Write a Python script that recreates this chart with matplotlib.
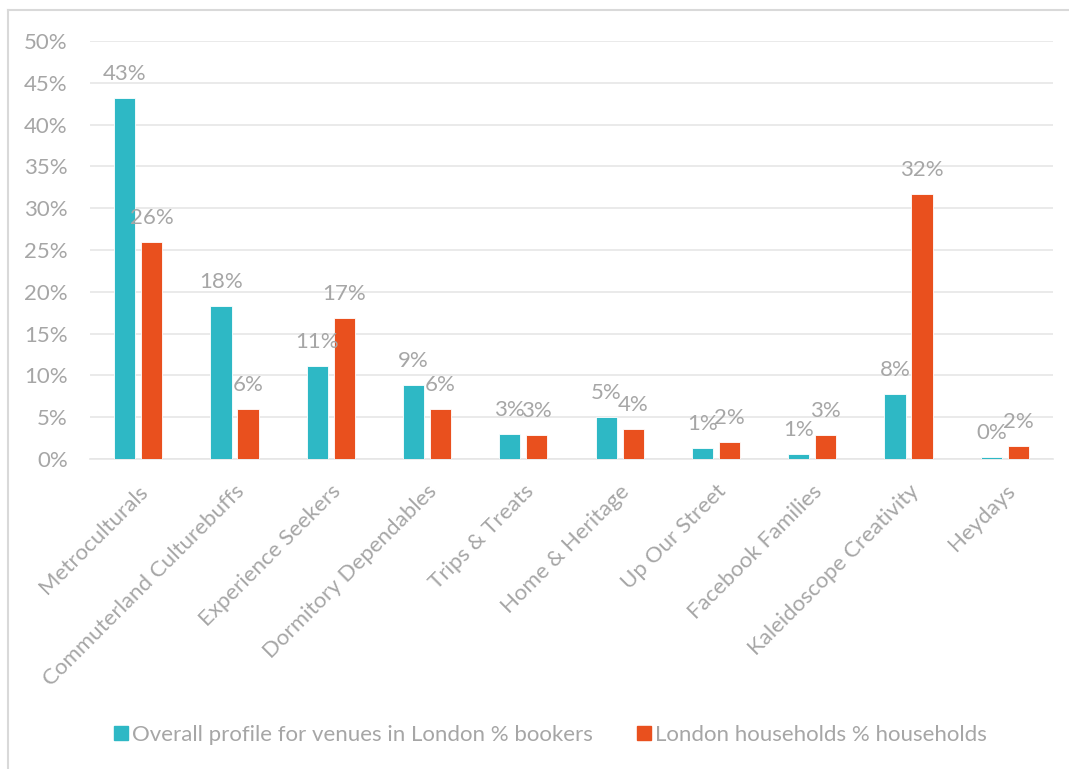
import matplotlib.pyplot as plt
import numpy as np
from matplotlib.lines import Line2D

plt.rcParams['font.family'] = ['Lato', 'DejaVu Sans']

categories = ["Metroculturals", "Commuterland Culturebuffs", "Experience Seekers",
              "Dormitory Dependables", "Trips & Treats", "Home & Heritage",
              "Up Our Street", "Facebook Families", "Kaleidoscope Creativity", "Heydays"]
bookers = [43.2, 18.3, 11.1, 8.8, 3.0, 5.0, 1.3, 0.6, 7.8, 0.2]
households = [26.0, 6.0, 16.9, 6.0, 2.9, 3.6, 2.0, 2.9, 31.7, 1.5]
series_names = ["Overall profile for venues in London % bookers",
                "London households % households"]
yticks = [0, 5, 10, 15, 20, 25, 30, 35, 40, 45, 50]

teal = "#2EB8C5"
orange = "#E9501E"
grey_text = "#A6A6A6"
grid_col = "#E6E6E6"
FS = 16

fig = plt.figure(figsize=(10.69, 7.69), dpi=100)
ax = fig.add_axes([90 / 1069, 1 - 459 / 769, (1053 - 90) / 1069, (459 - 41) / 769])

x = np.arange(len(categories))
w = 0.22
off = 0.14
b1 = ax.bar(x - off, bookers, w, color=teal, edgecolor="white", linewidth=0.6, zorder=3)
b2 = ax.bar(x + off, households, w, color=orange, edgecolor="white", linewidth=0.6, zorder=3)

for bars, vals in ((b1, bookers), (b2, households)):
    for rect, v in zip(bars, vals):
        ax.annotate(f"{v:.0f}%", (rect.get_x() + rect.get_width() / 2, v),
                    xytext=(0, 24), textcoords="offset pixels",
                    ha="center", va="center", fontsize=FS, color=grey_text, zorder=4)

ax.set_xlim(-0.5, len(categories) - 0.5)
ax.set_ylim(0, 50)
ax.set_yticks(yticks)
ax.set_yticklabels([f"{t}%" for t in yticks], fontsize=FS, color=grey_text)
ax.yaxis.grid(True, color=grid_col, linewidth=1.2, zorder=0)
ax.set_axisbelow(True)
for s in ("top", "right", "left"):
    ax.spines[s].set_visible(False)
ax.spines["bottom"].set_color(grid_col)
ax.spines["bottom"].set_linewidth(1.2)
ax.tick_params(axis="both", length=0)
ax.tick_params(axis="y", pad=16)

ax.set_xticks(x)
ax.set_xticklabels(categories, rotation=45, ha="right", va="top",
                   rotation_mode="anchor", fontsize=FS, color=grey_text)
ax.tick_params(axis="x", pad=16)

handles = [Line2D([], [], marker="s", linestyle="none", markersize=10, color=c)
           for c in (teal, orange)]
fig.legend(handles, series_names, loc="center", bbox_to_anchor=(0.515, 1 - 735 / 769),
           ncol=2, frameon=False, fontsize=FS, labelcolor=grey_text,
           handlelength=0.6, handletextpad=0.2, columnspacing=2.0)

# thin frame around the chart area (top and left edges)
fig.add_artist(Line2D([8 / 1069, 1.0], [1 - 10 / 769] * 2, color="#D9D9D9", linewidth=1.5,
                      transform=fig.transFigure))
fig.add_artist(Line2D([8 / 1069] * 2, [0.0, 1 - 10 / 769], color="#D9D9D9", linewidth=1.5,
                      transform=fig.transFigure))

fig.savefig("out.png", dpi=100, facecolor="white")
